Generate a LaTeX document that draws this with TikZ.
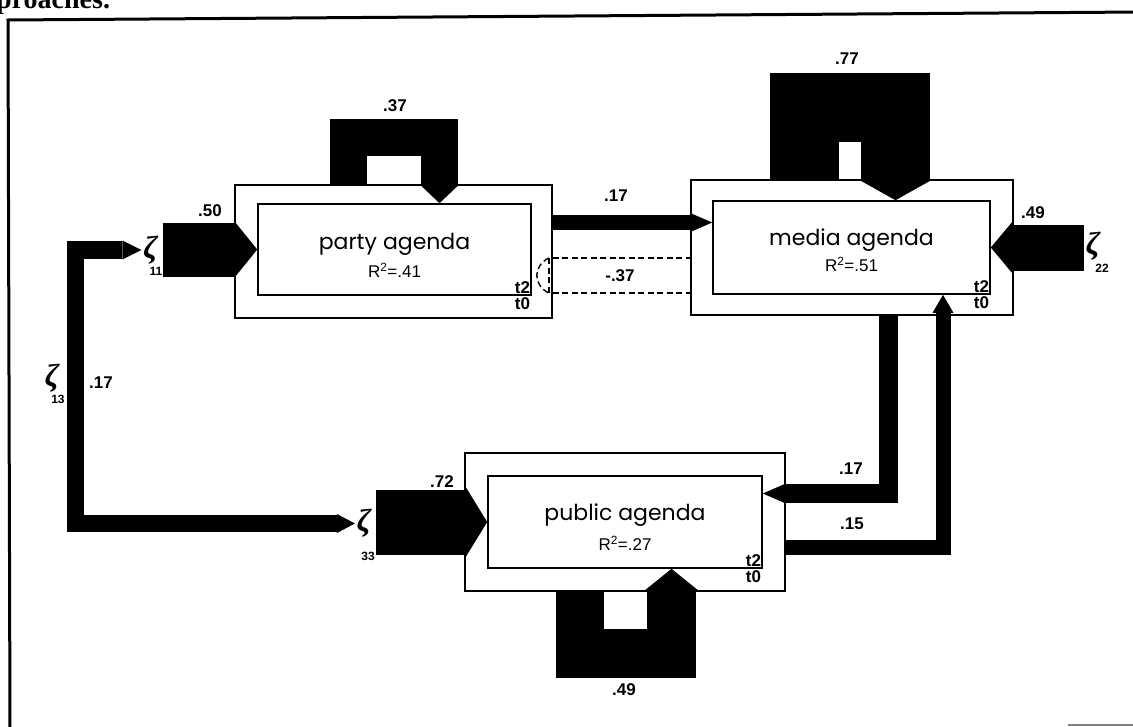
\documentclass[tikz,border=0pt]{standalone}
\usepackage{fontspec}
\newfontfamily\namefont{Poppins}
\newfontfamily\numfont{Liberation Sans}
\newfontfamily\pagefont{Liberation Serif}
\usetikzlibrary{arrows.meta, positioning, calc}

\begin{document}
\begin{tikzpicture}[
  x=1pt, y=-1pt,
  obox/.style 2 args={rectangle, draw, line width=1.6pt, minimum width=#1pt, minimum height=#2pt, inner sep=0pt},
  ibox/.style 2 args={rectangle, draw, fill=white, line width=1.6pt, minimum width=#1pt, minimum height=#2pt, inner sep=0pt},
  blk/.style n args={3}{line width=#1pt, -{Triangle[length=#2pt, width=#3pt, line width=0pt]}},
  duo/.style={line width=17.5pt, {Triangle[length=19pt, width=19pt, line width=0pt]}-{Triangle[length=18pt, width=19pt, line width=0pt]}},
  corrdash/.style={line width=1.4pt, dash pattern=on 6pt off 3.5pt},
  agenda/.style={font=\namefont\fontsize{22}{24}\selectfont, inner sep=0pt},
  rsq/.style={font=\numfont\fontsize{17}{18}\selectfont, inner sep=0pt},
  num/.style={font=\numfont\bfseries\fontsize{17}{18}\selectfont, inner sep=0pt},
  tlab/.style={font=\numfont\bfseries\fontsize{17}{18}\selectfont, inner sep=1.5pt},
  zeta/.style={font=\pagefont\bfseries\itshape\fontsize{32}{32}\selectfont, inner sep=0pt, outer sep=2pt},
  zsub/.style={font=\numfont\bfseries\fontsize{12}{12}\selectfont, inner sep=0pt}
]
  \useasboundingbox (0,0) rectangle (1133,726);

  % page frame and the cut text above it
  \node[font=\pagefont\bfseries\fontsize{28}{30}\selectfont, anchor=base west, inner sep=0pt] (pagetext) at (-4,8) {proaches.};
  \draw[line width=3pt] (10,730) -- (8,20) -- (1140,12);
  \draw[gray, line width=1.5pt] (1068,725) -- (1140,725);

  % agenda boxes: outer frame t0, inner frame t2
  \node[obox={317}{133}] (partyout) at (393.5,251.5) {};
  \node[ibox={273}{91}] (party) at (394.5,249.5) {};
  \node[obox={322}{135}] (mediaout) at (852,247.5) {};
  \node[ibox={277}{93}] (media) at (851.5,247.5) {};
  \node[obox={320}{138}] (publicout) at (625,522) {};
  \node[ibox={274}{92}] (public) at (625,522) {};

  \node[agenda] (partyname) at ([yshift=5pt]party.center) {party agenda};
  \node[rsq] (partyrsq) at ([yshift=-21pt]party.center) {R\textsuperscript{2}=.41};
  \node[agenda] (medianame) at ([yshift=7pt]media.center) {media agenda};
  \node[rsq] (mediarsq) at ([yshift=-17pt]media.center) {R\textsuperscript{2}=.51};
  \node[agenda] (publicname) at ([yshift=7pt]public.center) {public agenda};
  \node[rsq] (publicrsq) at ([yshift=-21pt]public.center) {R\textsuperscript{2}=.27};

  \node[tlab, anchor=south east] (partyt2) at (party.south east) {t2};
  \node[tlab, anchor=north east] (partyt0) at (party.south east) {t0};
  \node[tlab, anchor=south east] (mediat2) at (media.south east) {t2};
  \node[tlab, anchor=north east] (mediat0) at (media.south east) {t0};
  \node[tlab, anchor=south east] (publict2) at (public.south east) {t2};
  \node[tlab, anchor=north east] (publict0) at (public.south east) {t0};

  % disturbances
  \node[zeta] (z11) at (150.5,250) {ζ};
  \node[zsub] (z11sub) at (156,271) {11};
  \node[zeta] (z22) at (1093,246.5) {ζ};
  \node[zsub] (z22sub) at (1102,268) {22};
  \node[zeta] (z33) at (364,523.5) {ζ};
  \node[zsub] (z33sub) at (368,556) {33};
  \node[zeta] (z13) at (52,378) {ζ};
  \node[zsub] (z13sub) at (58,399) {13};

  % stability loops
  \draw[blk={37}{19}{40}] ([xshift=-45pt]partyout.north) -- ++(0,-47) -- ++(91,0) -- ([xshift=45pt]party.north);
  \draw[blk={69}{21}{75}] ([xshift=-48pt]mediaout.north) -- ++(0,-72) -- ++(91.5,0) -- ([xshift=44pt]media.north);
  \draw[blk={48.5}{23}{57}] ([xshift=-45pt]publicout.south) -- ++(0,61.5) -- ++(91.5,0) -- ([xshift=46.5pt]public.south);

  % disturbance paths
  \draw[blk={54}{23}{57}] ($(z11.east |- party.west)+(3,0)$) -- (party.west);
  \draw[blk={46}{23}{55}] (z22.west |- media.east) -- (media.east);
  \draw[blk={65}{23}{75}] ($(z33.east |- public.west)+(3,0)$) -- (public.west);
  \coordinate (c13) at (75.5,0);
  \draw[duo] (z11.west) -| (c13 |- z33.west) -- (z33.west);

  % cross paths
  \coordinate (pm) at ([yshift=29pt]partyout.east);
  \draw[blk={15}{22}{19}] (pm) -- (pm -| media.west);
  \coordinate (d1) at ([yshift=-6.5pt]partyout.east);
  \coordinate (d2) at ([yshift=-41.5pt]partyout.east);
  \draw[corrdash] (d1) -- (d1 -| mediaout.west);
  \draw[corrdash] (d2) -- (d2 -| mediaout.west);
  \draw[corrdash] ([xshift=-4pt]d1) -- ([xshift=-4pt]d2);
  \draw[corrdash] ([xshift=-4pt]d1) .. controls +(-16,8) and +(-16,-8) .. ([xshift=-4pt]d2);
  \draw[blk={19}{23}{20}] ([xshift=36.5pt]mediaout.south) |- ([yshift=28.5pt]public.east);
  \draw[blk={15}{18}{21}] ([yshift=-25.5pt]publicout.east) -| ([xshift=91.5pt]media.south);

  % coefficients
  \node[num] (c37) at (395,106) {.37};
  \node[num] (c77) at (847,59) {.77};
  \node[num] (c49b) at (624,690) {.49};
  \node[num] (c50) at (210,211) {.50};
  \node[num] (c17a) at (616,196) {.17};
  \node[num] (cm37) at (620,276) {-.37};
  \node[num] (c49r) at (1033,213) {.49};
  \node[num] (c72) at (442,482) {.72};
  \node[num] (c17b) at (851,469) {.17};
  \node[num] (c15) at (852,524) {.15};
  \node[num] (c17c) at (101,383) {.17};
\end{tikzpicture}
\end{document}
